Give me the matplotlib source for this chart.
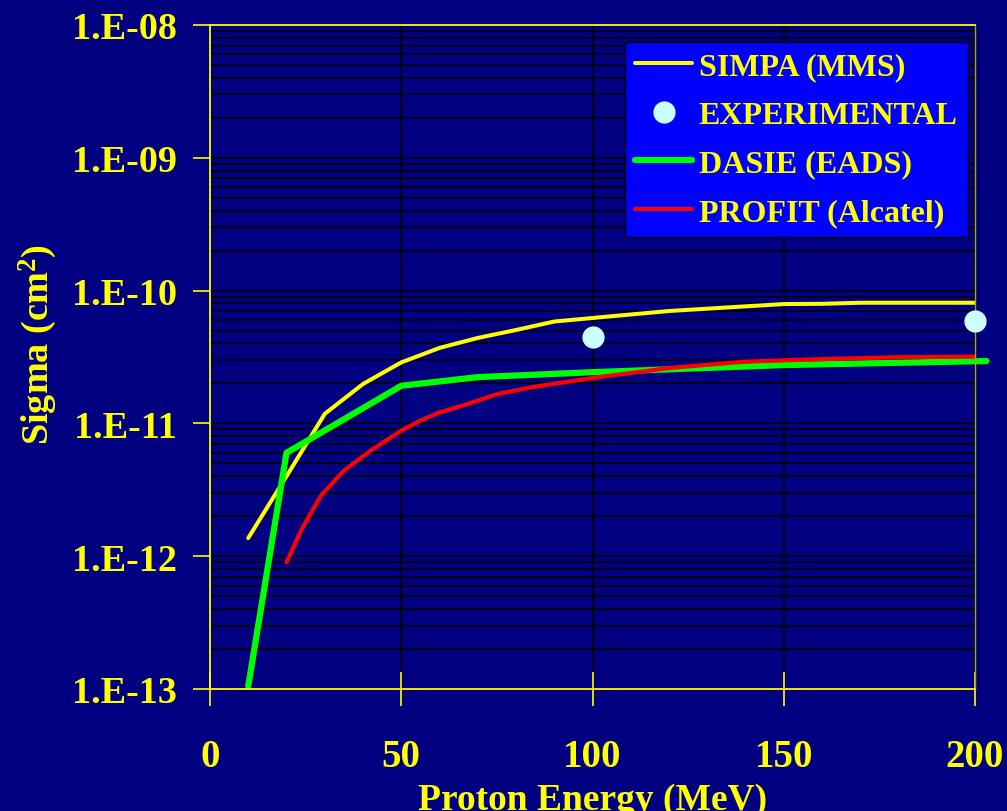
import numpy as np
import matplotlib
matplotlib.use('Agg')
import matplotlib.pyplot as plt
from matplotlib.ticker import LogLocator, NullFormatter

# Cross-section vs proton energy: three codes and the measured points
simpa_e = [10, 20, 30, 40, 50, 60, 70, 80, 90, 100, 120, 150, 160, 170, 200]
simpa_sigma = [1.37e-12, 4.0e-12, 1.18e-11, 1.98e-11, 2.88e-11, 3.70e-11, 4.40e-11,
               5.05e-11, 5.85e-11, 6.22e-11, 7.02e-11, 7.92e-11, 7.95e-11, 8.1e-11, 8.1e-11]

exp_e = [100, 200]
exp_sigma = [4.5e-11, 5.9e-11]

dasie_e = [10, 20, 50, 70, 100, 150, 203]
dasie_sigma = [1.05e-13, 6.0e-12, 1.92e-11, 2.23e-11, 2.43e-11, 2.75e-11, 2.95e-11]

profit_e = [20, 24, 29, 35, 42, 50, 55, 60, 66, 75, 84, 100, 120, 140, 160, 180, 200]
profit_sigma = [9.0e-13, 1.6e-12, 2.86e-12, 4.41e-12, 6.23e-12, 8.82e-12, 1.05e-11,
                1.21e-11, 1.36e-11, 1.66e-11, 1.87e-11, 2.2e-11, 2.61e-11, 2.92e-11,
                3.05e-11, 3.15e-11, 3.18e-11]

x_ticks = [0, 50, 100, 150, 200]
y_ticks = [1e-13, 1e-12, 1e-11, 1e-10, 1e-9, 1e-8]
y_tick_labels = ['1.E-13', '1.E-12', '1.E-11', '1.E-10', '1.E-09', '1.E-08']

BG = '#000080'
YEL = '#FFFF00'

plt.rcParams['font.family'] = ['Liberation Serif', 'DejaVu Serif']
plt.rcParams['font.weight'] = 'bold'
plt.rcParams['mathtext.fontset'] = 'custom'
plt.rcParams['mathtext.rm'] = 'Liberation Serif:bold'
plt.rcParams['mathtext.bf'] = 'Liberation Serif:bold'
plt.rcParams['mathtext.it'] = 'Liberation Serif:bold'

fig = plt.figure(figsize=(10.07, 8.12), dpi=100, facecolor=BG)
ax = fig.add_axes([210 / 1007, 1 - 690 / 812, 765 / 1007, 664 / 812])
ax.set_facecolor(BG)

ax.set_yscale('log')
ax.set_xlim(0, 200)
ax.set_ylim(1e-13, 1e-8)

# black grid, every minor decade line included
ax.yaxis.set_minor_locator(LogLocator(base=10, subs=np.arange(2, 10), numticks=50))
ax.yaxis.set_minor_formatter(NullFormatter())
ax.grid(True, which='major', axis='both', color='black', linewidth=1.1)
ax.grid(True, which='minor', axis='y', color='black', linewidth=1.1)
ax.set_axisbelow(True)

ax.plot(simpa_e, simpa_sigma, color=YEL, linewidth=2.9, solid_capstyle='round',
        label='SIMPA (MMS)')
ax.plot(exp_e, exp_sigma, linestyle='none', marker='o', markersize=15,
        color='#CCFFFF', markeredgecolor='#CCFFFF', clip_on=False, zorder=4,
        label='EXPERIMENTAL')
ax.plot(dasie_e, dasie_sigma, color='#00FF00', linewidth=4.5, solid_capstyle='round',
        clip_on=False, label='DASIE (EADS)')
ax.plot(profit_e, profit_sigma, color='#FF0000', linewidth=3.0, solid_capstyle='round',
        label='PROFIT (Alcatel)')

for side in ['left', 'top', 'bottom']:
    ax.spines[side].set_color(YEL)
    ax.spines[side].set_linewidth(1.3)
ax.spines['right'].set_color('#A8A800')
ax.spines['right'].set_linewidth(1.0)

ax.set_xticks(x_ticks)
ax.set_xticklabels([str(v) for v in x_ticks])
ax.set_yticks(y_ticks)
ax.set_yticklabels(y_tick_labels)
ax.tick_params(axis='x', which='major', direction='inout', length=24, width=1.2,
               color=YEL, labelcolor=YEL, labelsize=28, pad=23)
ax.tick_params(axis='y', which='major', direction='out', length=12, width=1.2,
               color=YEL, labelcolor=YEL, labelsize=27.5, pad=12)
ax.tick_params(axis='y', which='minor', length=0)

ax.set_xlabel('Proton Energy (MeV)', color=YEL, fontsize=27, fontweight='bold',
              labelpad=5)
ax.set_ylabel(r'Sigma (cm$^{2}$)', color=YEL, fontsize=27.5, fontweight='bold')
ax.yaxis.set_label_coords((59 - 210) / 765, 0.52)

leg = ax.legend(loc='upper right', bbox_to_anchor=(968 / 1007, 1 - 43 / 812),
                bbox_transform=fig.transFigure, borderaxespad=0, frameon=True,
                fancybox=False, facecolor='#0000FF', edgecolor='black',
                framealpha=1, prop={'family': 'Liberation Serif', 'weight': 'bold',
                                    'size': 23},
                handlelength=1.8, handletextpad=0.2, labelspacing=0.6,
                borderpad=0.32, numpoints=1)
leg.get_frame().set_linewidth(1.0)
for t in leg.get_texts():
    t.set_color(YEL)

fig.savefig('out.png', dpi=100, facecolor=BG)
